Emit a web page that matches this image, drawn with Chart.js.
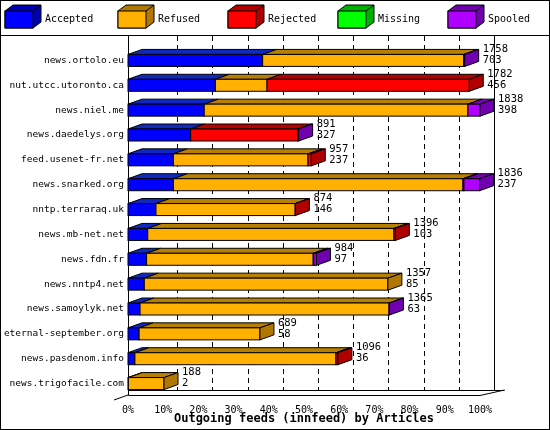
<!DOCTYPE html>
<html><head><meta charset="utf-8">
<script src="https://cdn.jsdelivr.net/npm/chart.js@4/dist/chart.umd.min.js"></script>
<style>html,body{margin:0;padding:0;background:#fff}#wrap{width:550px;height:430px}</style>
</head><body><div id="wrap"><canvas id="c" width="550" height="430"></canvas></div>
<script>
const hosts = ['news.ortolo.eu','nut.utcc.utoronto.ca','news.niel.me','news.daedelys.org','feed.usenet-fr.net','news.snarked.org','nntp.terraraq.uk','news.mb-net.net','news.fdn.fr','news.nntp4.net','news.samoylyk.net','eternal-september.org','news.pasdenom.info','news.trigofacile.com'];
const accepted = [703,456,398,327,237,237,146,103,97,85,63,58,36,2];
const refused  = [1050,270,1377,0,703,1512,727,1286,870,1272,1300,631,1050,186];
const rejected = [0,1056,0,560,17,5,1,7,3,0,0,0,10,0];
const missing  = [0,0,0,0,0,0,0,0,0,0,0,0,0,0];
const spooled  = [5,0,63,4,0,82,0,0,14,0,2,0,0,0];
const totals   = [1758,1782,1838,891,957,1836,874,1396,984,1357,1365,689,1096,188];
const tickPct  = [0,10,20,30,40,50,60,70,80,90,100];

const maxTotal = Math.max(...totals);
const pct = a => a.map(v => v / maxTotal * 100);
const DX = 14, DY = 5;
const FAM = '"DejaVu Sans Mono", monospace';
const FONT = '10px ' + FAM;

const series = [
  { label: 'Accepted', data: accepted, front: '#0000ff', top: '#1028c0', side: '#0000b0' },
  { label: 'Refused',  data: refused,  front: '#ffb000', top: '#b88000', side: '#b07800' },
  { label: 'Rejected', data: rejected, front: '#ff0000', top: '#b80000', side: '#b00000' },
  { label: 'Missing',  data: missing,  front: '#00ff00', top: '#00b000', side: '#00b000' },
  { label: 'Spooled',  data: spooled,  front: '#b000ff', top: '#7800b0', side: '#7000b0' }
];

function box3d(ctx, x, y, w, h, s) {
  ctx.lineWidth = 1; ctx.strokeStyle = '#000';
  ctx.beginPath(); ctx.moveTo(x, y); ctx.lineTo(x + DX, y - DY); ctx.lineTo(x + w + DX, y - DY); ctx.lineTo(x + w, y); ctx.closePath();
  ctx.fillStyle = s.top; ctx.fill(); ctx.stroke();
  ctx.fillStyle = s.front; ctx.fillRect(x, y, w, h); ctx.strokeRect(x, y, w, h);
}

const plugin3d = {
  id: 'plugin3d',
  beforeDatasetsDraw(chart) {
    const ctx = chart.ctx, xs = chart.scales.x, a = chart.chartArea;
    const base = a.bottom - 1;
    ctx.save();
    ctx.setLineDash([5, 4]); ctx.strokeStyle = '#000'; ctx.lineWidth = 1;
    tickPct.forEach(p => {
      if (p === 0 || p === 100) return;
      const x = Math.round(xs.getPixelForValue(p) + DX) + 0.5;
      ctx.beginPath(); ctx.moveTo(x, 36); ctx.lineTo(x, base - DY); ctx.stroke();
    });
    ctx.setLineDash([]);
    const xr = Math.round(xs.getPixelForValue(100) + DX) + 0.5;
    ctx.beginPath(); ctx.moveTo(xr, 36); ctx.lineTo(xr, base - DY); ctx.stroke();
    ctx.beginPath(); ctx.moveTo(a.left + 0.5, 36); ctx.lineTo(a.left + 0.5, base + 0.5); ctx.lineTo(xs.getPixelForValue(100), base + 0.5); ctx.lineTo(xr + 10, base - DY); ctx.stroke();
    ctx.beginPath(); ctx.moveTo(a.left - 14, base + 5); ctx.lineTo(a.left, base); ctx.stroke();
    ctx.beginPath(); ctx.moveTo(a.left, base - DY + 0.5); ctx.lineTo(xr + 10, base - DY + 0.5); ctx.stroke();
    ctx.restore();
  },
  afterDatasetsDraw(chart) {
    const ctx = chart.ctx;
    ctx.save();
    const n = hosts.length;
    for (let i = 0; i < n; i++) {
      let last = null;
      series.forEach((s, k) => {
        const el = chart.getDatasetMeta(k).data[i];
        const x0 = Math.min(el.base, el.x), w = Math.abs(el.x - el.base);
        const y = el.y - el.height / 2;
        if (w > 0.01) { box3d(ctx, x0, y, w, el.height, s); last = { el, s, y }; }
      });
      if (last) {
        const { el, s, y } = last, xe = el.x, h = el.height;
        ctx.beginPath(); ctx.moveTo(xe, y); ctx.lineTo(xe + DX, y - DY); ctx.lineTo(xe + DX, y + h - DY); ctx.lineTo(xe, y + h); ctx.closePath();
        ctx.fillStyle = s.side; ctx.fill(); ctx.strokeStyle = '#000'; ctx.stroke();
        ctx.fillStyle = '#000'; ctx.font = '10.5px ' + FAM; ctx.textAlign = 'left'; ctx.textBaseline = 'middle';
        ctx.fillText(String(totals[i]), xe + DX + 4, y - 5);
        ctx.fillText(String(accepted[i]), xe + DX + 4, y + 6);
      }
    }
    // legend
    ctx.font = FONT; ctx.textBaseline = 'middle'; ctx.textAlign = 'left';
    const lx = [5, 118, 228, 338, 448];
    series.forEach((s, k) => {
      const x = lx[k];
      ctx.beginPath(); ctx.moveTo(x, 11); ctx.lineTo(x + 8, 5); ctx.lineTo(x + 36, 5); ctx.lineTo(x + 36, 22); ctx.lineTo(x + 28, 28); ctx.lineTo(x, 28); ctx.closePath();
      ctx.fillStyle = s.side; ctx.fill(); ctx.strokeStyle = '#000'; ctx.stroke();
      ctx.fillStyle = s.front; ctx.fillRect(x, 11, 28, 17); ctx.strokeRect(x, 11, 28, 17);
      ctx.beginPath(); ctx.moveTo(x + 28, 11); ctx.lineTo(x + 36, 5); ctx.stroke();
      ctx.fillStyle = '#000'; ctx.fillText(s.label, x + 40, 19);
    });
    ctx.strokeStyle = '#000'; ctx.lineWidth = 1;
    ctx.strokeRect(0.5, 0.5, 549, 429);
    ctx.beginPath(); ctx.moveTo(0, 35.5); ctx.lineTo(550, 35.5); ctx.stroke();
    ctx.restore();
  }
};

new Chart(document.getElementById('c'), {
  type: 'bar',
  data: {
    labels: hosts,
    datasets: series.map(s => ({ label: s.label, data: pct(s.data), backgroundColor: 'rgba(0,0,0,0)', borderWidth: 0 }))
  },
  options: {
    responsive: false, animation: false, indexAxis: 'y',
    layout: { padding: { top: 48, right: 70, left: 0, bottom: 4 } },
    plugins: { legend: { display: false }, tooltip: { enabled: false } },
    datasets: { bar: { barThickness: 12 } },
    scales: {
      x: {
        stacked: true, min: 0, max: 100,
        afterBuildTicks: sc => { sc.ticks = tickPct.map(v => ({ value: v })); },
        afterFit: sc => { sc.height = 30; },
        grid: { display: false, drawTicks: false }, border: { display: false },
        ticks: { color: '#000', font: { family: FAM, size: 10 }, padding: 8, callback: v => v + '%' },
        title: { display: true, text: 'Outgoing feeds (innfeed) by Articles', color: '#000', padding: 0, font: { family: FAM, size: 12, weight: 'bold' } }
      },
      y: {
        stacked: true,
        afterFit: sc => { sc.width = 128; },
        grid: { display: false, drawTicks: false }, border: { display: false },
        ticks: { color: '#000', padding: 4, font: { family: FAM, size: 9.5 } }
      }
    }
  },
  plugins: [plugin3d]
});
</script></body></html>
